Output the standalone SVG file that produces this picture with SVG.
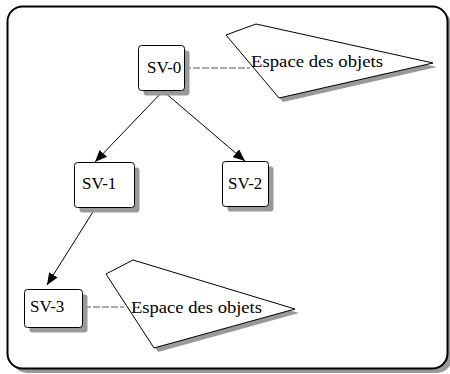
<svg xmlns="http://www.w3.org/2000/svg" width="450" height="374" viewBox="0 0 450 374">
  <style>
    .frame { fill: #ffffff; stroke: #000000; stroke-width: 2; }
    .shadow { fill: #999999; stroke: none; }
    .box { fill: #ffffff; stroke: #000000; stroke-width: 1; }
    .space { fill: #ffffff; stroke: #000000; stroke-width: 1; }
    .label { font-family: "Liberation Serif", "Times New Roman", serif; font-size: 17px; fill: #000000; }
    .edge { stroke: #000000; stroke-width: 1; fill: none; marker-end: url(#arrow); }
    .link { stroke: #555555; stroke-width: 1; stroke-dasharray: 7 2; fill: none; }
  </style>
  <defs>
    <marker id="arrow" viewBox="0 0 12 10" refX="12" refY="5" markerWidth="12" markerHeight="10" markerUnits="userSpaceOnUse" orient="auto">
      <path d="M0,0 L12,5 L0,10 Z" fill="#000000"/>
    </marker>
  </defs>

  <!-- outer frame -->
  <rect class="shadow" x="12" y="11" width="440" height="362" rx="15"/>
  <rect class="frame" x="7.5" y="6.5" width="440" height="362" rx="15"/>

  <!-- tree edges -->
  <g id="connectors">
    <line class="edge" x1="163" y1="91" x2="95" y2="162"/>
    <line class="edge" x1="163" y1="91" x2="245" y2="161"/>
    <line class="edge" x1="96" y1="207" x2="47" y2="285"/>
    <line class="link" x1="184" y1="68" x2="250" y2="68"/>
    <line class="link" x1="66" y1="307" x2="124" y2="307"/>
  </g>

  <!-- object space attached to SV-0 -->
  <g id="space-0">
    <polygon class="shadow" points="230,39 260,28 437,67 283,102"/>
    <polygon class="space" points="226,35 256,24 433,63 279,98"/>
    <text class="label" x="251" y="67" textLength="132" lengthAdjust="spacingAndGlyphs">Espace des objets</text>
  </g>

  <!-- object space attached to SV-3 -->
  <g id="space-3">
    <polygon class="shadow" points="110,278 137,264 299,313 158,352"/>
    <polygon class="space" points="106,274 133,260 295,309 154,348"/>
    <text class="label" x="131" y="313" textLength="131" lengthAdjust="spacingAndGlyphs">Espace des objets</text>
  </g>

  <g id="sv-0">
    <rect class="shadow" x="143.5" y="50.5" width="46" height="45" rx="3"/>
    <rect class="box" x="138.5" y="45.5" width="46" height="45" rx="3"/>
    <text class="label" x="147" y="73">SV-0</text>
  </g>

  <g id="sv-1">
    <rect class="shadow" x="79.5" y="167.5" width="60" height="45" rx="3"/>
    <rect class="box" x="74.5" y="162.5" width="60" height="45" rx="3"/>
    <text class="label" x="82" y="189">SV-1</text>
  </g>

  <g id="sv-2">
    <rect class="shadow" x="227.5" y="166.5" width="46" height="45" rx="3"/>
    <rect class="box" x="222.5" y="161.5" width="46" height="45" rx="3"/>
    <text class="label" x="228" y="189">SV-2</text>
  </g>

  <g id="sv-3">
    <rect class="shadow" x="29.5" y="294.5" width="58" height="38" rx="3"/>
    <rect class="box" x="24.5" y="289.5" width="58" height="38" rx="3"/>
    <text class="label" x="30" y="312">SV-3</text>
  </g>
</svg>
